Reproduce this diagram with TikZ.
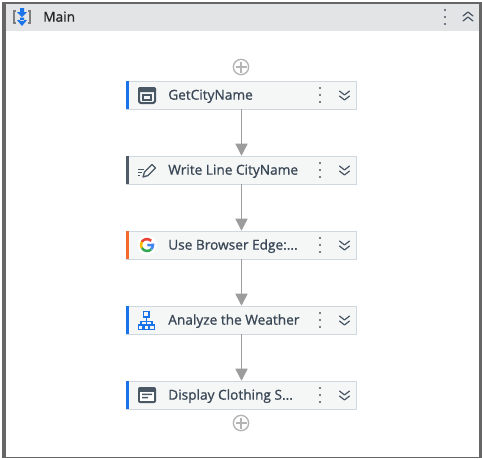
\documentclass[tikz,border=0pt]{standalone}
\usepackage{fontspec}
\setmainfont{Open Sans}[FakeBold=1]
\usetikzlibrary{arrows.meta}
\definecolor{frameC}{HTML}{666666}
\definecolor{headC}{HTML}{E3E4E6}
\definecolor{boxC}{HTML}{F5F6F6}
\definecolor{edgeC}{HTML}{CFD8E0}
\definecolor{txtC}{HTML}{3A4756}
\definecolor{iconC}{HTML}{4A5866}
\definecolor{blueC}{HTML}{1A73E8}
\definecolor{orangeC}{HTML}{F4692A}
\definecolor{slateC}{HTML}{4F5B67}
\definecolor{arrowC}{HTML}{9C9C9C}
\definecolor{plusC}{HTML}{B4B4B4}
\definecolor{gR}{HTML}{EA4335}
\definecolor{gY}{HTML}{FBBC05}
\definecolor{gG}{HTML}{34A853}
\definecolor{gB}{HTML}{4285F4}
\tikzset{
  x=0.75pt,y=-0.75pt,
  actbox/.style={draw=edgeC,fill=boxC,line width=0.75pt,minimum width=172.5pt,minimum height=21pt,inner sep=0pt,outer sep=0pt},
  acttext/.style={anchor=west,inner sep=0pt,text=txtC,font=\fontsize{10.25pt}{12pt}\selectfont,text height=7.5pt,text depth=2pt},
  headtext/.style={anchor=west,inner sep=0pt,text=black!85,font=\fontsize{10.25pt}{12pt}\selectfont,text height=7.5pt,text depth=2pt},
  flow/.style={draw=arrowC,line width=1.15pt,-{Triangle[width=9pt,length=9pt,fill=arrowC]},shorten >=0.2pt},
  addbtn/.style={circle,draw=plusC,line width=1pt,fill=white,minimum size=11.5pt,inner sep=0pt},
  chev/.style={draw=iconC,line width=0.9pt,line cap=round,line join=round},
  ico/.style={draw=iconC,line width=1.1pt,line join=round}
}
\newcommand{\kebab}[3][slateC]{\foreach \d in {-7,0,7}{\fill[#1] (#2,#3+\d) circle[radius=1.05];}}
\newcommand{\chevdown}[2]{\draw[chev] (#1-5,#2-4)--(#1,#2)--(#1+5,#2-4);\draw[chev] (#1-5,#2+1)--(#1,#2+5)--(#1+5,#2+1);}
\newcommand{\chevup}[2]{\draw[chev] (#1-5,#2+4)--(#1,#2)--(#1+5,#2+4);\draw[chev] (#1-5,#2-1)--(#1,#2-5)--(#1+5,#2-1);}
\begin{document}
\begin{tikzpicture}
\useasboundingbox (0,0) rectangle (482,458);
\fill[white] (0,0) rectangle (482,458);
% frame and header
\fill[headC] (4,3) rectangle (480,31);
\fill[frameC] (2,2) rectangle (482,4.2);
\fill[frameC] (2,2) rectangle (5.5,458);
\fill[frameC] (479,2) rectangle (482,458);
\fill[frameC] (2,456.5) rectangle (482,458);
\node[headtext] (mainlabel) at (43,18) {Main};
% header icon
\draw[plusC!70!black,line width=.8pt] (16,11)--(14,11)--(14,23)--(16,23);
\draw[plusC!70!black,line width=.8pt] (28,11)--(30,11)--(30,23)--(28,23);
\fill[blueC] (20,8) rectangle (24,12) (17,12)--(27,12)--(22,17)--cycle;
\fill[blueC] (20,17.5) rectangle (24,21) (17,20)--(27,20)--(22,26)--cycle;
\kebab[iconC]{445}{17}
\chevup{468}{17}
% activity boxes
\node[actbox] (a) at (241.5,95) {};
\node[actbox] (b) at (241.5,170) {};
\node[actbox] (c) at (241.5,245) {};
\node[actbox] (d) at (241.5,320) {};
\node[actbox] (e) at (241.5,395) {};
\fill[blueC] (126,81) rectangle (128.5,109);
\fill[slateC] (126,156) rectangle (128.5,184);
\fill[orangeC] (126,231) rectangle (128.5,259);
\fill[blueC] (126,306) rectangle (128.5,334);
\fill[blueC] (126,381) rectangle (128.5,409);
\node[acttext] (at) at (168,96) {GetCityName};
\node[acttext] (bt) at (168,171) {Write Line CityName};
\node[acttext] (ct) at (168,246) {Use Browser Edge:...};
\node[acttext] (dt) at (168,321) {Analyze the Weather};
\node[acttext] (et) at (168,396) {Display Clothing S...};
\foreach \y in {95,170,245,320,395}{\kebab{320}{\y}\chevdown{344.5}{\y}}
% connectors
\draw[flow] (a.south)--(b.north);
\draw[flow] (b.south)--(c.north);
\draw[flow] (c.south)--(d.north);
\draw[flow] (d.south)--(e.north);
% add buttons
\node[addbtn] (p1) at (241,67) {};
\node[addbtn] (p2) at (241,423) {};
\foreach \y in {67,423}{\draw[plusC,line width=1pt] (235.5,\y)--(246.5,\y) (241,\y-5.5)--(241,\y+5.5);}
% icon a
\draw[ico,rounded corners=1.2pt,line width=1.5pt] (139,88)rectangle(155,103);
\fill[iconC,rounded corners=1pt] (138,87) rectangle (156,92);
\draw[iconC,line width=.9pt] (143,95) rectangle (151,100);
% icon b
\draw[iconC,line width=.9pt] (138,169.5)--(144,169.5) (138,172.5)--(142,172.5) (138,175.5)--(140,175.5);
\draw[iconC,line width=1pt,line join=round] (143,177)--(144.5,172)--(152,164.5)--(155.5,168)--(148,175.5)--cycle;
% icon c: G (y axis points down, so arc angles are mirrored)
\fill[white] (147,245) circle[radius=10];
\begin{scope}[line width=1.9pt]
\draw[gR] (151.2,240.8) arc[start angle=-45,end angle=-150,radius=6];
\draw[gY] (141.8,242) arc[start angle=-150,end angle=-210,radius=6];
\draw[gG] (141.8,248) arc[start angle=-210,end angle=-315,radius=6];
\draw[gB] (151.2,249.2) arc[start angle=45,end angle=0,radius=6] -- (147.3,245.2);
\end{scope}
% icon d
\draw[blueC,line width=1pt] (143.5,311.5) rectangle (149,317);
\draw[blueC,line width=.9pt] (146.3,317)--(146.3,325) (141,325)--(141,321.5)--(152,321.5)--(152,325);
\draw[blueC,line width=1pt] (138.5,325)rectangle(143,329.5) (144,325)rectangle(148.5,329.5) (149.5,325)rectangle(154.5,329.5);
% icon e
\fill[iconC,rounded corners=1.5pt] (138,387) rectangle (156,403);
\fill[white] (140,391.5) rectangle (154,401);
\fill[iconC] (142,393.5) rectangle (152,395) (142,396.8) rectangle (148,398.3);
\end{tikzpicture}
\end{document}
